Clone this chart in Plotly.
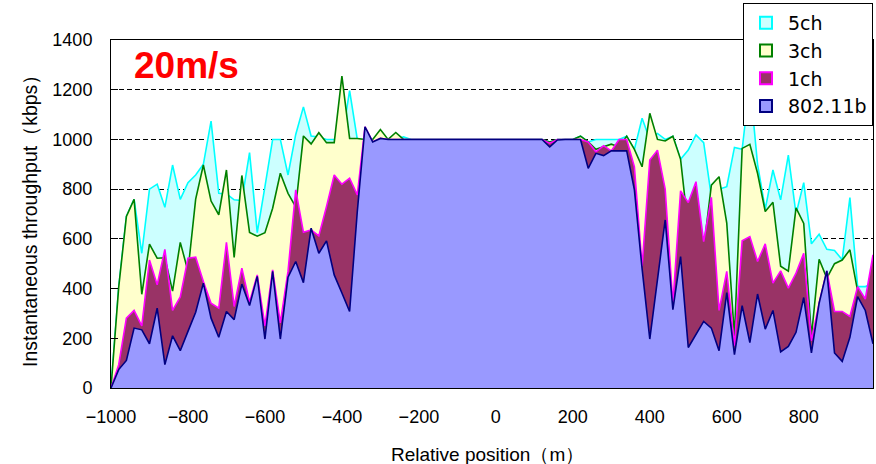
import plotly.graph_objects as go

# Relative position (m): categories every 20 m
positions = list(range(-1000, 1000, 20))

ch5 = [0, 405, 690, 759, 542, 800, 820, 727, 897, 759,
       826, 857, 900, 1074, 783, 781, 757, 754, 947, 625,
       810, 1000, 1000, 857, 1020, 1131, 1014, 1010, 1000, 1000,
       1000, 1196, 1000, 1000, 1000, 1000, 1000, 1000, 1010, 1000,
       1000, 1000, 1000, 1000, 1000, 1000, 1000, 1000, 1000, 1000,
       1000, 1000, 1000, 1000, 1000, 1000, 1000, 990, 1000, 1000,
       1000, 1013, 990, 1000, 1000, 1000, 1000, 1013, 960, 1085,
       1000, 1024, 1000, 1013, 920, 957, 1018, 987, 770, 800,
       810, 968, 960, 1230, 900, 720, 877, 757, 937, 700,
       826, 580, 619, 558, 553, 516, 766, 408, 408, 420]

ch3 = [0, 405, 690, 759, 377, 579, 522, 524, 390, 586,
       470, 760, 897, 752, 697, 877, 525, 855, 626, 611,
       625, 723, 864, 783, 729, 1014, 982, 1027, 987, 987,
       1255, 1004, 1004, 1000, 1000, 1040, 1000, 1028, 1000, 1000,
       1000, 1000, 1000, 1000, 1000, 1000, 1000, 1000, 1000, 1000,
       1000, 1000, 1000, 1000, 1000, 1000, 1000, 990, 1000, 1000,
       1000, 1013, 990, 960, 970, 981, 970, 1013, 960, 890,
       1105, 1000, 994, 1013, 920, 640, 700, 560, 816, 850,
       663, 208, 964, 980, 864, 710, 747, 490, 470, 725,
       662, 208, 518, 442, 500, 515, 556, 390, 340, 480]

ch1 = [0, 94, 281, 312, 250, 515, 415, 558, 312, 366,
       522, 526, 428, 341, 321, 586, 328, 482, 345, 455,
       250, 475, 262, 470, 797, 627, 636, 612, 730, 857,
       820, 844, 777, 1051, 990, 1004, 1000, 1000, 1000, 1000,
       1000, 1000, 1000, 1000, 1000, 1000, 1000, 1000, 1000, 1000,
       1000, 1000, 1000, 1000, 1000, 1000, 1000, 985, 1000, 1000,
       1000, 1000, 990, 950, 975, 954, 1000, 1000, 890, 490,
       917, 957, 800, 340, 793, 746, 830, 589, 767, 312,
       469, 170, 592, 609, 509, 580, 422, 471, 402, 462,
       542, 190, 341, 471, 308, 308, 288, 408, 358, 536]

b802 = [0, 74, 111, 241, 234, 178, 321, 94, 210, 150,
        228, 305, 422, 281, 204, 308, 275, 418, 332, 449,
        197, 469, 197, 446, 509, 424, 643, 542, 592, 455,
        382, 308, 710, 1051, 990, 1004, 1000, 1000, 1000, 1000,
        1000, 1000, 1000, 1000, 1000, 1000, 1000, 1000, 1000, 1000,
        1000, 1000, 1000, 1000, 1000, 1000, 1000, 970, 998, 1000,
        1000, 1000, 884, 944, 935, 954, 954, 954, 797, 480,
        197, 436, 676, 315, 529, 163, 217, 268, 241, 150,
        384, 134, 331, 183, 378, 237, 312, 145, 167, 224,
        364, 141, 341, 471, 141, 107, 204, 368, 312, 178]

series_names = ["5ch", "3ch", "1ch", "802.11b"]
series_values = [ch5, ch3, ch1, b802]
line_colors = ["#00FFFF", "#008000", "#FF00FF", "#000080"]
fill_colors = ["#CCFFFF", "#FFFFCC", "#993366", "#9999FF"]

x_ticks = [-1000, -800, -600, -400, -200, 0, 200, 400, 600, 800]
y_ticks = [0, 200, 400, 600, 800, 1000, 1200, 1400]

FONT = "Liberation Sans, Arial, sans-serif"
LFONT = "DejaVu Sans, Liberation Sans, sans-serif"

# pixel helpers for paper coordinates (plot area 111..873 x, 40..388 y)
def px(v):
    return (v - 111) / 762

def py(v):
    return (388 - v) / 348

fig = go.Figure()
for name, vals, lc, fc in zip(series_names, series_values, line_colors, fill_colors):
    fig.add_trace(go.Scatter(
        x=positions, y=vals, mode="lines", name=name,
        line=dict(color=lc, width=1.6),
        fill="tozeroy", fillcolor=fc, showlegend=False,
        hoverinfo="skip"))

# legend entries as square swatches
for name, lc, fc in zip(series_names, line_colors, fill_colors):
    fig.add_trace(go.Scatter(
        x=[None], y=[None], mode="markers", name=name, legendgroup=name,
        marker=dict(symbol="square", size=16, color=fc,
                    line=dict(color=lc, width=1.5))))

fig.update_layout(
    width=876, height=464,
    margin=dict(l=111, r=3, t=40, b=76),
    paper_bgcolor="white", plot_bgcolor="white",
    font=dict(family=FONT, color="black", size=18),
    showlegend=True,
    legend=dict(
        x=1.0, y=py(3), xanchor="right", yanchor="top",
        bgcolor="white", bordercolor="black", borderwidth=1,
        font=dict(family=LFONT, size=19, color="black"),
        tracegroupgap=0, itemsizing="constant", itemwidth=34,
    ),
    xaxis=dict(
        range=[-1000, 980], tickvals=x_ticks,
        showgrid=False, zeroline=False,
        showline=True, linecolor="black", linewidth=1, mirror=True,
        ticks="", tickfont=dict(size=18, family=FONT),
        ticklabelstandoff=12,
    ),
    yaxis=dict(
        range=[0, 1400], tickvals=y_ticks,
        showgrid=True, gridcolor="black", gridwidth=1, griddash="5px,3px",
        zeroline=False,
        showline=True, linecolor="black", linewidth=1, mirror=True,
        ticks="inside", ticklen=7, tickcolor="black",
        tickfont=dict(size=18, family=FONT),
        ticklabelstandoff=14,
    ),
    annotations=[
        dict(text="<b>20m/s</b>", xref="paper", yref="paper",
             x=px(132), y=py(66),
             xanchor="left", yanchor="middle", showarrow=False,
             font=dict(family=FONT, size=37, color="#FF0000")),
        dict(text="Instantaneous throughput（kbps）", xref="paper", yref="paper",
             x=px(30), y=py(216), textangle=-90,
             xanchor="center", yanchor="middle", showarrow=False,
             font=dict(family=FONT, size=19.5, color="black")),
        dict(text="Relative position（m）", xref="paper", yref="paper",
             x=px(487), y=py(454),
             xanchor="center", yanchor="middle", showarrow=False,
             font=dict(family=FONT, size=19, color="black")),
    ],
)

fig.write_html("out.html")
